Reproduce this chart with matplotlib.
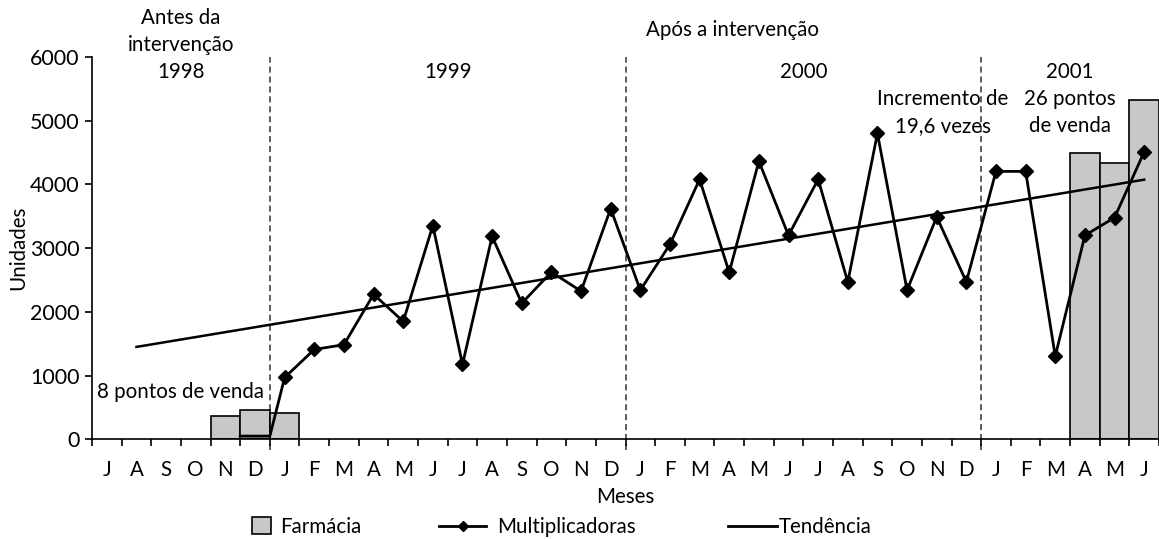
import numpy as np
import matplotlib
matplotlib.use('Agg')
import matplotlib.pyplot as plt
from matplotlib.patches import Patch
from matplotlib.lines import Line2D

plt.rcParams['font.family'] = ['Lato', 'DejaVu Sans']
plt.rcParams['font.size'] = 14.8

# meses de jul/1998 a jun/2001
meses = ['J', 'A', 'S', 'O', 'N', 'D',
         'J', 'F', 'M', 'A', 'M', 'J', 'J', 'A', 'S', 'O', 'N', 'D',
         'J', 'F', 'M', 'A', 'M', 'J', 'J', 'A', 'S', 'O', 'N', 'D',
         'J', 'F', 'M', 'A', 'M', 'J']
nan = np.nan
farmacia = [nan, nan, nan, nan, 360, 455,
            405, nan, nan, nan, nan, nan, nan, nan, nan, nan, nan, nan,
            nan, nan, nan, nan, nan, nan, nan, nan, nan, nan, nan, nan,
            nan, nan, nan, 4495, 4340, 5330]
multiplicadoras = [nan, nan, nan, nan, nan, 50,
                   970, 1410, 1485, 2275, 1850, 3355, 1175, 3185, 2135, 2625, 2325, 3620,
                   2340, 3060, 4080, 2620, 4365, 3200, 4080, 2470, 4800, 2340, 3490, 2470,
                   4205, 4205, 1305, 3200, 3480, 4510]
tendencia_meses = [1, 35]          # ago/1998 e jun/2001
tendencia_valores = [1450, 4075]
divisoes = [6, 18, 30]             # viradas de ano
anos = ['1999', '2000', '2001']
anos_centro = [12, 24, 33]

fig = plt.figure(figsize=(11.59, 5.39), dpi=100)
ax = fig.add_axes([92/1159, 99.7/539, 1067/1159, 382.3/539])

x = np.arange(len(meses))
ax.bar(x + 0.5, farmacia, width=1, color='#c8c8c8', edgecolor='black', linewidth=1.2, zorder=2)

# linha das multiplicadoras: primeiro mês aparece como um degrau sem marcador
mult = np.array(multiplicadoras, dtype=float)
i0 = int(np.where(~np.isnan(mult))[0][0])
xl = np.concatenate([[i0, i0 + 1], x[i0 + 1:] + 0.5])
yl = np.concatenate([[mult[i0], mult[i0]], mult[i0 + 1:]])
ax.plot(xl, yl, color='black', lw=2, zorder=4)
ax.plot(x[i0 + 1:] + 0.5, mult[i0 + 1:], ls='none', marker='D', ms=6.8, color='black', zorder=5)

ax.plot(np.array(tendencia_meses) + 0.5, tendencia_valores, color='black', lw=1.8, zorder=3)

for d in divisoes:
    ax.vlines(d, -170, 6000, colors='#333333', linestyles=(0, (4, 2.5)), lw=1.1, clip_on=False, zorder=1)

ax.set_xlim(0, len(meses))
ax.set_ylim(0, 6000)
ax.set_yticks(range(0, 6001, 1000))
ax.set_xticks(range(len(meses) + 1))
ax.set_xticklabels([])
ax.set_xticks(x + 0.5, minor=True)
ax.set_xticklabels(meses, minor=True)
ax.tick_params(axis='x', which='minor', length=0, pad=15)
ax.tick_params(axis='x', which='major', length=5, width=1.2)
ax.tick_params(axis='y', length=5, width=1.2, pad=4, labelsize=15.5)
for s in ['top', 'right']:
    ax.spines[s].set_visible(False)
for s in ['left', 'bottom']:
    ax.spines[s].set_linewidth(1.2)

ax.set_ylabel('Unidades', labelpad=1)
ax.set_xlabel('Meses', labelpad=5)

# textos
ax.text(3, 6190, 'Antes da\nintervenção\n1998', ha='center', va='center', linespacing=1.45, clip_on=False)
ax.text(21.6, 6420, 'Após a intervenção', ha='center', va='center', clip_on=False)
for a, c in zip(anos, anos_centro):
    ax.text(c, 5770, a, ha='center', va='center')
ax.text(28.7, 5130, 'Incremento de\n19,6 vezes', ha='center', va='center', linespacing=1.4)
ax.text(33, 5130, '26 pontos\nde venda', ha='center', va='center', linespacing=1.4)
ax.text(3, 745, '8 pontos de venda', ha='center', va='center')

# legenda
h1 = Patch(facecolor='#c8c8c8', edgecolor='black', linewidth=1.2)
h2 = Line2D([], [], color='black', lw=2, marker='D', ms=5)
h3 = Line2D([], [], color='black', lw=2)
fig.legend(handles=[h1], labels=['Farmácia'], loc='center left', bbox_to_anchor=(252/1159, 1 - 527/539),
           frameon=False, handlelength=0.9, handleheight=0.9, handletextpad=0.45, borderpad=0, borderaxespad=0)
fig.legend(handles=[h2], labels=['Multiplicadoras'], loc='center left', bbox_to_anchor=(439/1159, 1 - 527/539),
           frameon=False, handlelength=2.3, handletextpad=0.55, borderpad=0, borderaxespad=0)
fig.legend(handles=[h3], labels=['Tendência'], loc='center left', bbox_to_anchor=(728/1159, 1 - 527/539),
           frameon=False, handlelength=2.4, handletextpad=0.05, borderpad=0, borderaxespad=0)

fig.savefig('out.png', dpi=100)
